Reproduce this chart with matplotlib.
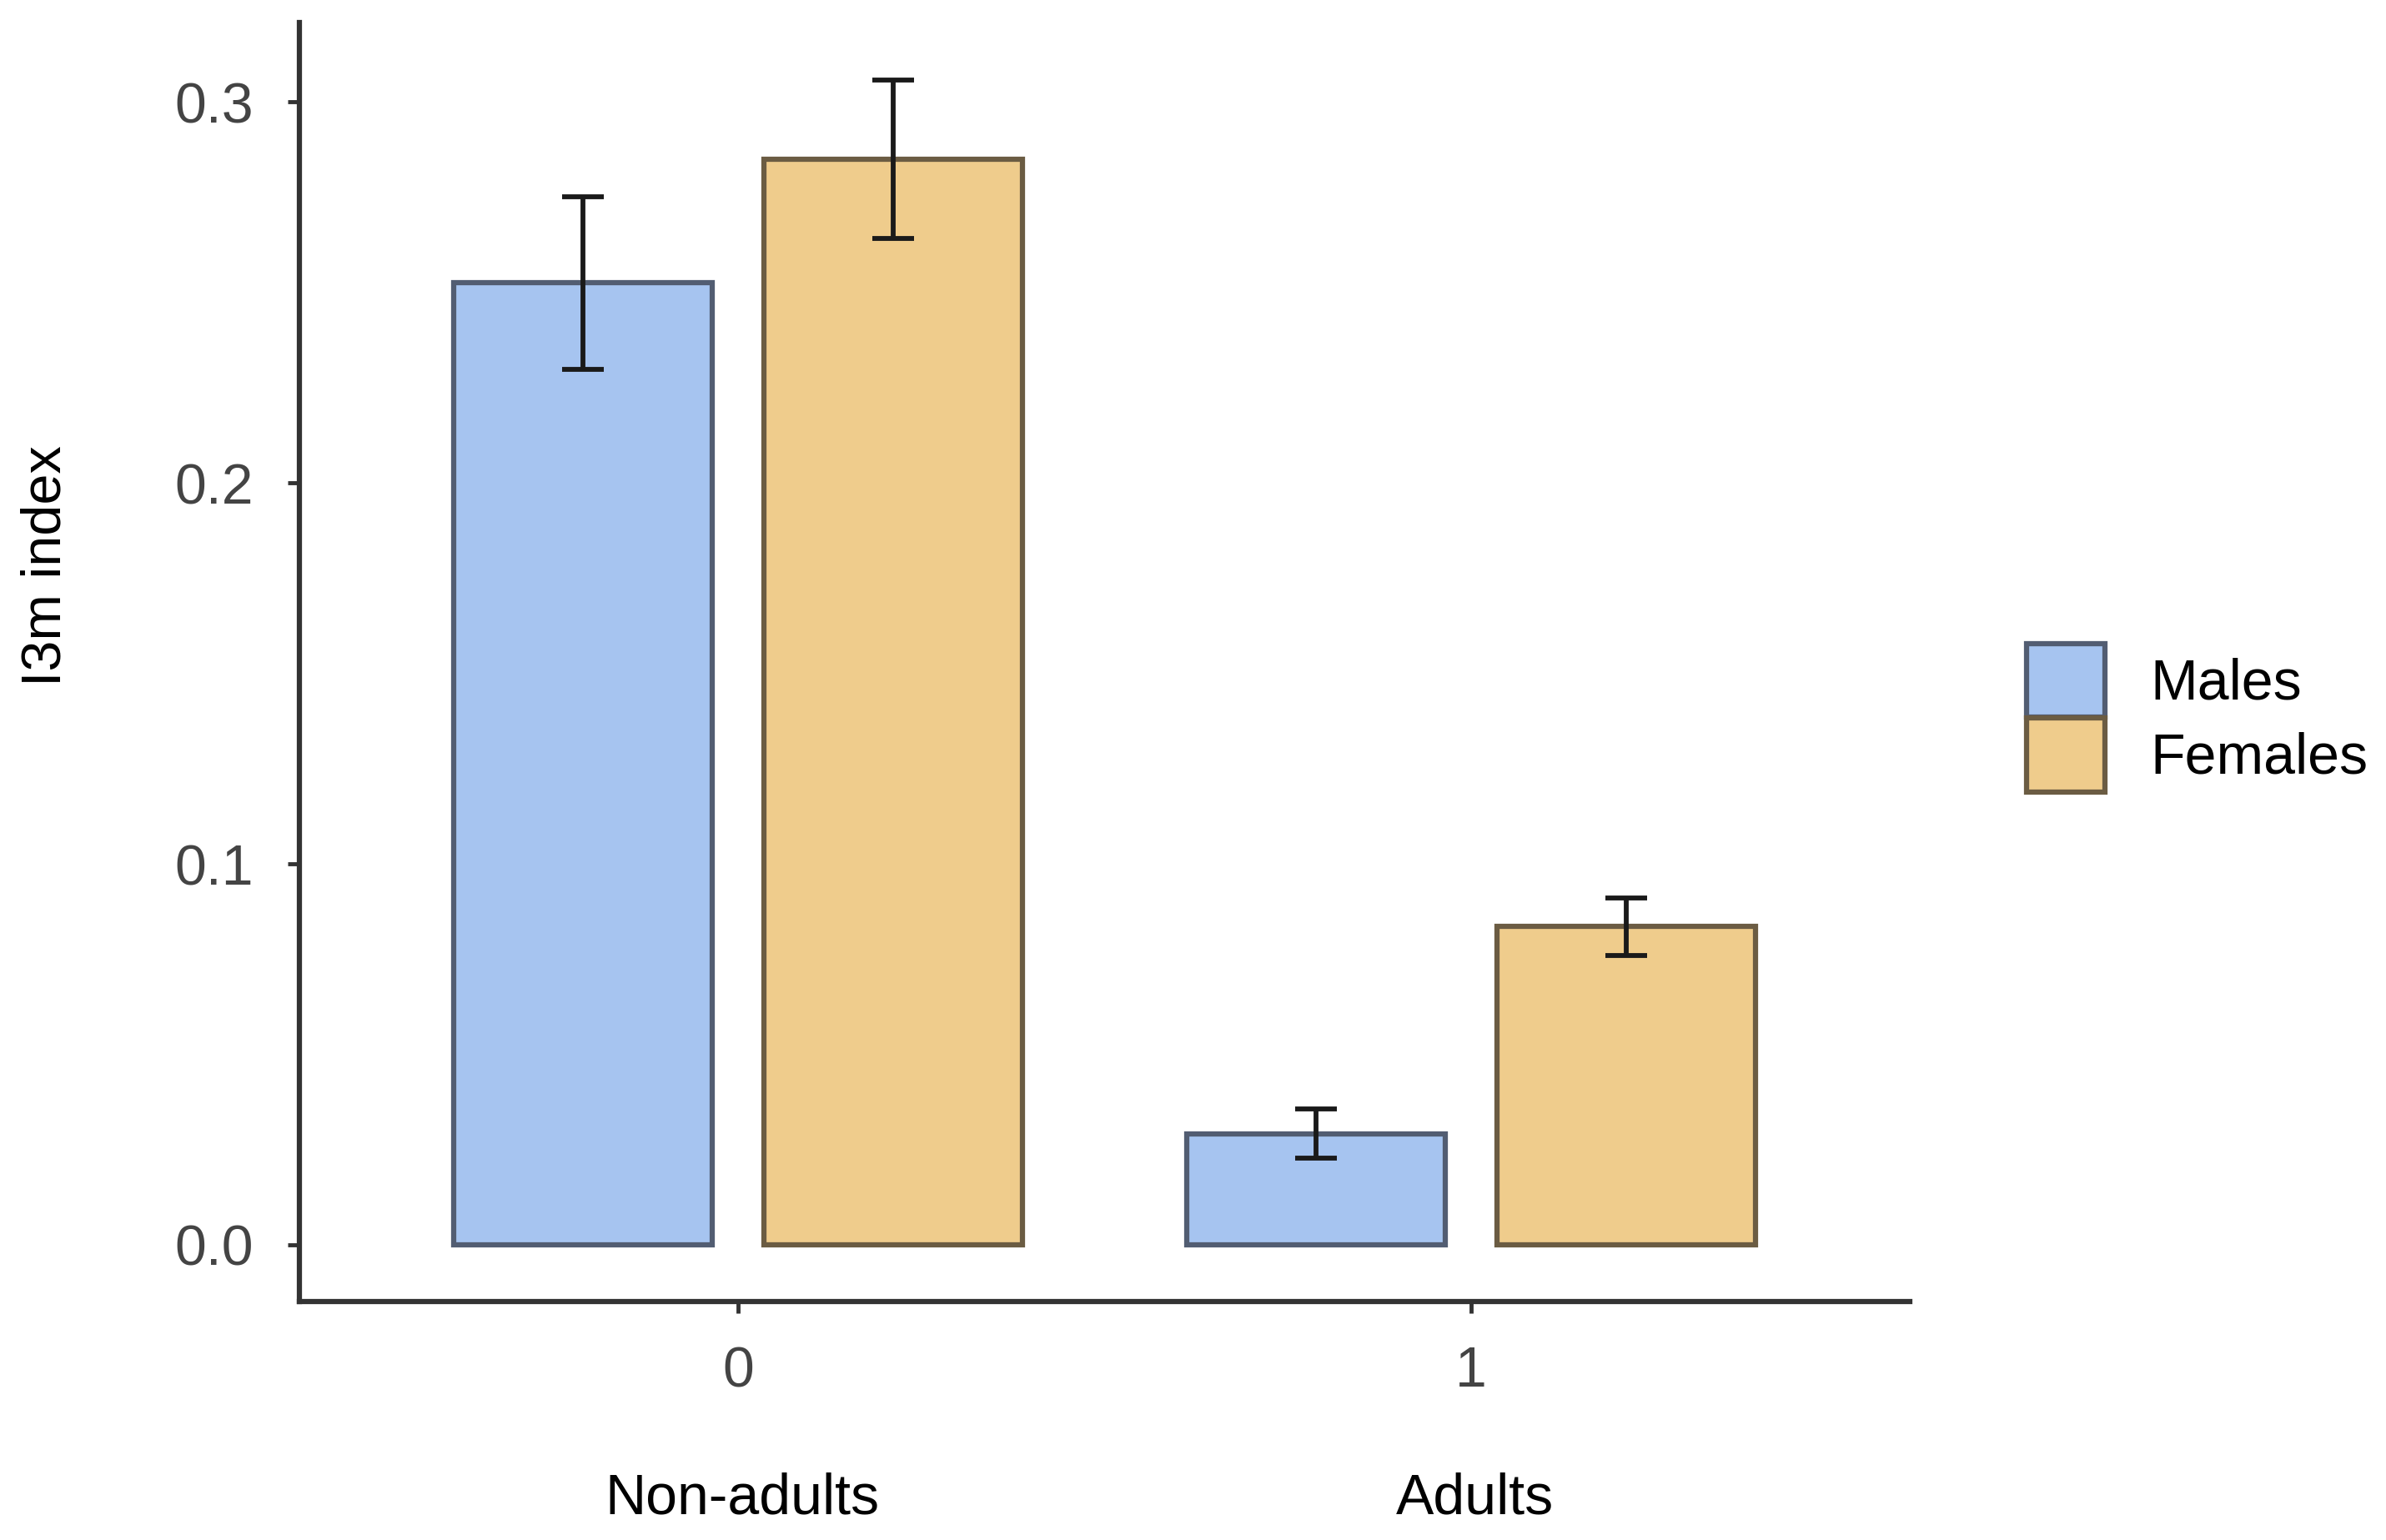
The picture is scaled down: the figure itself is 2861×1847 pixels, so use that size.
import numpy as np
import matplotlib.pyplot as plt
from matplotlib.patches import Patch
from matplotlib.transforms import blended_transform_factory

groups = ["Non-adults", "Adults"]
group_ticks = ["0", "1"]
sexes = ["Males", "Females"]
males = [0.2525, 0.0292]
females = [0.2849, 0.0835]
males_err = [0.0226, 0.0064]
females_err = [0.0208, 0.0076]

fills = ["#a6c4f0", "#efcc8c"]
edges = ["#525d72", "#6b5c43"]

plt.rcParams["font.family"] = ["Liberation Sans", "DejaVu Sans"]

fig = plt.figure(figsize = (28.61, 18.47), dpi = 100)
ax = fig.add_axes([0.1256, 0.1551, 0.6748, 0.8301])

x = np.arange(len(groups))
width = 0.353
offset = 0.2116
for i, (vals, errs) in enumerate([(males, males_err), (females, females_err)]):
    pos = x + (offset if i else -offset)
    ax.bar(
        pos, vals,
        width = width,
        color = fills[i],
        edgecolor = edges[i],
        linewidth = 4.5,
        label = sexes[i],
        zorder = 2
    )
    ax.errorbar(
        pos, vals,
        yerr = errs,
        fmt = "none",
        ecolor = "#1a1a1a",
        elinewidth = 4.2,
        capsize = 18,
        capthick = 4.2,
        zorder = 3
    )

ax.set_xlim(-0.598, 1.598)
ax.set_ylim(-0.0148, 0.3208)
ax.set_yticks([0.0, 0.1, 0.2, 0.3])
ax.set_yticklabels(["0.0", "0.1", "0.2", "0.3"])
ax.set_xticks(x)
ax.set_xticklabels(group_ticks)

for side in ["top", "right"]:
    ax.spines[side].set_visible(False)
for side in ["left", "bottom"]:
    ax.spines[side].set_linewidth(4.5)
    ax.spines[side].set_color("#333333")

ax.tick_params(axis = "both", length = 10, width = 3.5, color = "#333333",
               labelsize = 49, labelcolor = "#444444")
ax.tick_params(axis = "y", pad = 30)
ax.tick_params(axis = "x", pad = 28)

ax.set_ylabel("I3m index", fontsize = 48, color = "black")
ax.yaxis.set_label_coords(-0.1411, 0.575)

trans = blended_transform_factory(ax.transData, fig.transFigure)
for xi, name in zip(x, groups):
    ax.text(xi + 0.005, 1 - 985 / 1012, name, transform = trans,
            ha = "center", va = "center", fontsize = 49, color = "black")

handles = [Patch(facecolor = fills[i], edgecolor = edges[i], linewidth = 4.5, label = sexes[i])
           for i in range(2)]
fig.legend(
    handles = handles,
    loc = "center left",
    bbox_to_anchor = (0.8495, 0.534),
    frameon = False,
    fontsize = 49,
    borderpad = 0,
    borderaxespad = 0,
    handlelength = 1.37,
    handleheight = 1.62,
    handletextpad = 0.8,
    labelspacing = 0.02
)

fig.savefig("out.png", dpi = 100, facecolor = "white")
